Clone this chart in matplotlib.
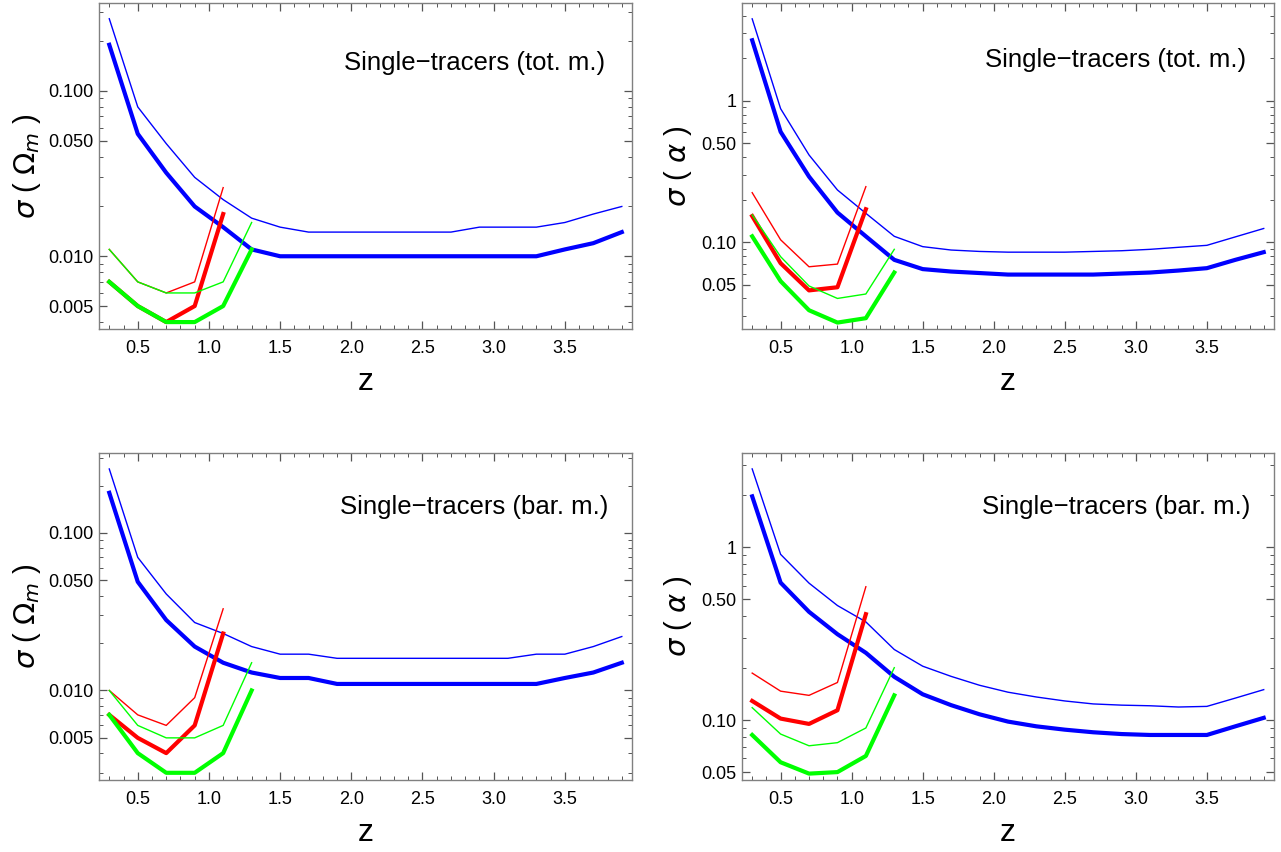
import matplotlib

matplotlib.use("Agg")
import matplotlib.pyplot as plt  # noqa: E402
from matplotlib.ticker import FixedLocator, FixedFormatter, NullFormatter  # noqa: E402

plt.rcParams["font.family"] = ["Liberation Sans", "DejaVu Sans"]

BLUE = "#0000FF"
RED = "#FF0000"
GREEN = "#00FF00"
FRAME = "#808080"

# redshift bins
Z_ALL = [0.3, 0.5, 0.7, 0.9, 1.1, 1.3, 1.5, 1.7, 1.9, 2.1, 2.3, 2.5, 2.7, 2.9, 3.1, 3.3, 3.5, 3.7, 3.9]
Z_RED = [0.3, 0.5, 0.7, 0.9, 1.1]
Z_GREEN = [0.3, 0.5, 0.7, 0.9, 1.1, 1.3]

# --- sigma(Omega_m), total mass ---
om_tot_blue_thin = [0.273, 0.080, 0.048, 0.030, 0.022, 0.017, 0.015, 0.014, 0.014, 0.014,
                    0.014, 0.014, 0.014, 0.015, 0.015, 0.015, 0.016, 0.018, 0.020]
om_tot_blue_thick = [0.19, 0.055, 0.032, 0.020, 0.015, 0.011, 0.010, 0.010, 0.010, 0.010,
                     0.010, 0.010, 0.010, 0.010, 0.010, 0.010, 0.011, 0.012, 0.014]
om_tot_red_thin = [0.011, 0.007, 0.006, 0.007, 0.026]
om_tot_red_thick = [0.007, 0.005, 0.004, 0.005, 0.018]
om_tot_green_thin = [0.011, 0.007, 0.006, 0.006, 0.007, 0.016]
om_tot_green_thick = [0.007, 0.005, 0.004, 0.004, 0.005, 0.011]

# --- sigma(alpha), total mass ---
al_tot_blue_thin = [3.8, 0.88, 0.414, 0.234, 0.160, 0.110, 0.093, 0.088, 0.086, 0.085,
                    0.085, 0.085, 0.086, 0.087, 0.089, 0.092, 0.095, 0.109, 0.125]
al_tot_blue_thick = [2.68, 0.604, 0.291, 0.162, 0.110, 0.075, 0.0645, 0.062, 0.0605, 0.059,
                     0.059, 0.059, 0.059, 0.060, 0.061, 0.063, 0.0655, 0.075, 0.085]
al_tot_red_thin = [0.224, 0.104, 0.067, 0.070, 0.247]
al_tot_red_thick = [0.153, 0.071, 0.0456, 0.048, 0.171]
al_tot_green_thin = [0.156, 0.079, 0.049, 0.040, 0.043, 0.089]
al_tot_green_thick = [0.110, 0.053, 0.033, 0.027, 0.029, 0.061]

# --- sigma(Omega_m), baryonic mass ---
om_bar_blue_thin = [0.255, 0.070, 0.041, 0.027, 0.023, 0.019, 0.017, 0.017, 0.016, 0.016,
                    0.016, 0.016, 0.016, 0.016, 0.016, 0.017, 0.017, 0.019, 0.022]
om_bar_blue_thick = [0.18, 0.049, 0.028, 0.019, 0.015, 0.013, 0.012, 0.012, 0.011, 0.011,
                     0.011, 0.011, 0.011, 0.011, 0.011, 0.011, 0.012, 0.013, 0.015]
om_bar_red_thin = [0.010, 0.007, 0.006, 0.009, 0.033]
om_bar_red_thick = [0.007, 0.005, 0.004, 0.006, 0.023]
om_bar_green_thin = [0.010, 0.006, 0.005, 0.005, 0.006, 0.015]
om_bar_green_thick = [0.007, 0.004, 0.003, 0.003, 0.004, 0.010]

# --- sigma(alpha), baryonic mass ---
al_bar_blue_thin = [2.84, 0.91, 0.62, 0.46, 0.37, 0.256, 0.205, 0.179, 0.159, 0.145,
                    0.136, 0.129, 0.124, 0.122, 0.121, 0.119, 0.120, 0.134, 0.150]
al_bar_blue_thick = [1.97, 0.624, 0.423, 0.314, 0.245, 0.178, 0.141, 0.122, 0.108, 0.098,
                     0.092, 0.088, 0.085, 0.083, 0.082, 0.082, 0.082, 0.092, 0.103]
al_bar_red_thin = [0.187, 0.147, 0.139, 0.165, 0.591]
al_bar_red_thick = [0.129, 0.102, 0.095, 0.114, 0.41]
al_bar_green_thin = [0.118, 0.083, 0.071, 0.074, 0.090, 0.201]
al_bar_green_thick = [0.082, 0.057, 0.049, 0.050, 0.062, 0.139]

OM_TICKS = [0.005, 0.010, 0.050, 0.100]
OM_LABELS = ["0.005", "0.010", "0.050", "0.100"]
AL_TICKS = [0.05, 0.10, 0.50, 1.0]
AL_LABELS = ["0.05", "0.10", "0.50", "1"]
X_TICKS = [0.5, 1.0, 1.5, 2.0, 2.5, 3.0, 3.5]
X_LABELS = ["0.5", "1.0", "1.5", "2.0", "2.5", "3.0", "3.5"]

OM_YLABEL = r"$\sigma$ ( $\Omega_m$ )"
AL_YLABEL = r"$\sigma$ ( $\alpha$ )"


def log_minors(lo, hi):
    out = []
    dec = 1e-4
    while dec < 100:
        for k in range(1, 10):
            v = k * dec
            if lo <= v <= hi:
                out.append(v)
        dec *= 10
    return out


def draw_panel(ax, series, ylim, yticks, ylabels, ylabel, text, ylab_x, text_pos):
    (bt, bk, rt, rk, gt, gk) = series
    ax.plot(Z_ALL, bt, color=BLUE, lw=1.0)
    ax.plot(Z_ALL, bk, color=BLUE, lw=3.0)
    ax.plot(Z_RED, rt, color=RED, lw=1.0)
    ax.plot(Z_RED, rk, color=RED, lw=3.0)
    ax.plot(Z_GREEN, gt, color=GREEN, lw=1.0)
    ax.plot(Z_GREEN, gk, color=GREEN, lw=3.0)

    ax.set_yscale("log")
    ax.set_xlim(0.228, 3.972)
    ax.set_ylim(*ylim)

    ax.xaxis.set_major_locator(FixedLocator(X_TICKS))
    ax.xaxis.set_major_formatter(FixedFormatter(X_LABELS))
    ax.xaxis.set_minor_locator(FixedLocator([0.3 + 0.1 * i for i in range(37)]))
    ax.yaxis.set_major_locator(FixedLocator(yticks))
    ax.yaxis.set_major_formatter(FixedFormatter(ylabels))
    ax.yaxis.set_minor_locator(FixedLocator(log_minors(*ylim)))
    ax.yaxis.set_minor_formatter(NullFormatter())

    ax.tick_params(which="both", direction="in", top=True, right=True, color="#555555")
    ax.tick_params(which="major", length=6, width=0.9, labelsize=13)
    ax.tick_params(which="minor", length=3, width=0.7)
    ax.tick_params(axis="x", pad=8)
    ax.tick_params(axis="y", pad=4)
    for sp in ax.spines.values():
        sp.set_color(FRAME)
        sp.set_linewidth(1.0)

    ax.set_xlabel("z", fontsize=23, va="center")
    ax.xaxis.set_label_coords(0.5, -0.163)
    ax.set_ylabel(ylabel, fontsize=21, va="center")
    ax.yaxis.set_label_coords(ylab_x, 0.5)
    ax.text(text_pos[0], text_pos[1], text, transform=ax.transAxes,
            ha="right", va="center", fontsize=18.5)


fig = plt.figure(figsize=(12.81, 8.52), dpi=100)
fig.patch.set_facecolor("white")

ax1 = fig.add_axes([0.0773, 0.6138, 0.4161, 0.3827])
ax2 = fig.add_axes([0.5792, 0.6138, 0.4153, 0.3827])
ax3 = fig.add_axes([0.0773, 0.0845, 0.4161, 0.3838])
ax4 = fig.add_axes([0.5792, 0.0845, 0.4153, 0.3838])

draw_panel(ax1, (om_tot_blue_thin, om_tot_blue_thick, om_tot_red_thin, om_tot_red_thick,
                 om_tot_green_thin, om_tot_green_thick),
           (0.00363, 0.34), OM_TICKS, OM_LABELS, OM_YLABEL,
           "Single\u2212tracers (tot. m.)", -0.135, (0.949, 0.816))
draw_panel(ax2, (al_tot_blue_thin, al_tot_blue_thick, al_tot_red_thin, al_tot_red_thick,
                 al_tot_green_thin, al_tot_green_thick),
           (0.0243, 4.92), AL_TICKS, AL_LABELS, AL_YLABEL,
           "Single\u2212tracers (tot. m.)", -0.12, (0.947, 0.825))
draw_panel(ax3, (om_bar_blue_thin, om_bar_blue_thick, om_bar_red_thin, om_bar_red_thick,
                 om_bar_green_thin, om_bar_green_thick),
           (0.0027, 0.322), OM_TICKS, OM_LABELS, OM_YLABEL,
           "Single\u2212tracers (bar. m.)", -0.135, (0.955, 0.835))
draw_panel(ax4, (al_bar_blue_thin, al_bar_blue_thick, al_bar_red_thin, al_bar_red_thick,
                 al_bar_green_thin, al_bar_green_thick),
           (0.045, 3.51), AL_TICKS, AL_LABELS, AL_YLABEL,
           "Single\u2212tracers (bar. m.)", -0.12, (0.955, 0.835))

fig.savefig("out.png", dpi=100)
